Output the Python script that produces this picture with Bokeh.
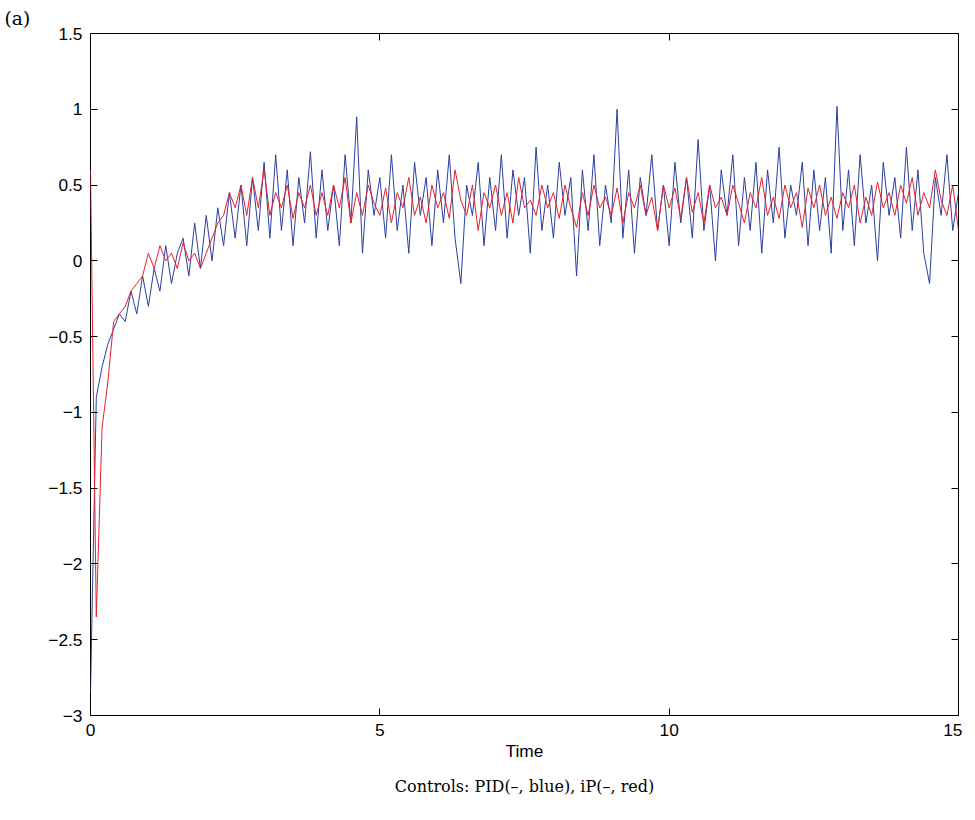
import numpy as np
from bokeh.plotting import figure
from bokeh.models import LinearAxis, FixedTicker, Title
from bokeh.embed import file_html
from bokeh.resources import INLINE

time = np.round(np.arange(0, 15.01, 0.1), 2)

pid = [
    -2.85, -0.9, -0.7, -0.55, -0.45, -0.35, -0.4, -0.2, -0.35, -0.1,
    -0.3, -0.05, -0.2, 0.1, -0.15, 0.05, 0.15, -0.1, 0.25, -0.05,
    0.3, 0.0, 0.35, 0.1, 0.45, 0.15, 0.5, 0.1, 0.55, 0.2,
    0.65, 0.15, 0.7, 0.2, 0.6, 0.1, 0.55, 0.25, 0.72, 0.15,
    0.6, 0.2, 0.5, 0.1, 0.7, 0.25, 0.95, 0.05, 0.6, 0.3,
    0.55, 0.15, 0.7, 0.2, 0.5, 0.05, 0.65, 0.3, 0.55, 0.1,
    0.6, 0.25, 0.7, 0.15, -0.15, 0.5, 0.3, 0.65, 0.1, 0.55,
    0.2, 0.7, 0.15, 0.6, 0.3, 0.55, 0.05, 0.75, 0.2, 0.5,
    0.15, 0.65, 0.3, 0.55, -0.1, 0.6, 0.2, 0.7, 0.1, 0.5,
    0.25, 1.0, 0.15, 0.6, 0.05, 0.55, 0.3, 0.7, 0.2, 0.5,
    0.1, 0.65, 0.25, 0.55, 0.15, 0.8, 0.2, 0.5, 0.0, 0.6,
    0.3, 0.7, 0.1, 0.55, 0.2, 0.65, 0.05, 0.6, 0.25, 0.75,
    0.15, 0.5, 0.3, 0.65, 0.1, 0.6, 0.2, 0.55, 0.05, 1.02,
    0.2, 0.6, 0.1, 0.7, 0.25, 0.5, 0.0, 0.65, 0.3, 0.55,
    0.15, 0.75, 0.2, 0.6, 0.05, -0.15, 0.55, 0.3, 0.7, 0.2,
    0.45,
]

ip = [
    0.6, -2.35, -1.1, -0.8, -0.4, -0.35, -0.3, -0.2, -0.15, -0.1,
    0.05, -0.05, 0.1, 0.0, 0.05, -0.05, 0.12, 0.0, 0.05, -0.05,
    0.05, 0.15, 0.25, 0.3, 0.45, 0.35, 0.5, 0.3, 0.55, 0.35,
    0.6, 0.3, 0.45, 0.35, 0.5, 0.28, 0.45, 0.35, 0.5, 0.3,
    0.45, 0.3, 0.5, 0.35, 0.55, 0.25, 0.45, 0.3, 0.5, 0.38,
    0.3, 0.48, 0.25, 0.45, 0.35, 0.55, 0.3, 0.42, 0.25, 0.5,
    0.35, 0.45, 0.28, 0.6, 0.4, 0.3, 0.5, 0.2, 0.45, 0.35,
    0.5, 0.3, 0.45, 0.25, 0.55, 0.35, 0.4, 0.3, 0.5, 0.35,
    0.45, 0.28, 0.5, 0.35, 0.22, 0.45, 0.3, 0.5, 0.35, 0.42,
    0.3, 0.48, 0.25, 0.45, 0.35, 0.5, 0.3, 0.42, 0.2, 0.5,
    0.35, 0.48, 0.28, 0.55, 0.32, 0.45, 0.25, 0.5, 0.35, 0.42,
    0.3, 0.5, 0.38, 0.25, 0.45, 0.35, 0.55, 0.3, 0.42, 0.28,
    0.5, 0.35, 0.45, 0.22, 0.48, 0.35, 0.5, 0.3, 0.42, 0.28,
    0.45, 0.35, 0.5, 0.25, 0.42, 0.3, 0.52, 0.35, 0.45, 0.3,
    0.5, 0.38, 0.55, 0.3, 0.45, 0.35, 0.6, 0.4, 0.3, 0.5,
    0.2,
]

y_ticks = [-3, -2.5, -2, -1.5, -1, -0.5, 0, 0.5, 1, 1.5]
x_ticks = [0, 5, 10, 15]

p = figure(width=962, height=806, x_range=(0, 15), y_range=(-3, 1.5),
           output_backend="svg", toolbar_location=None,
           min_border_left=90, min_border_right=4, min_border_top=22, min_border_bottom=4)
p.grid.visible = False
p.outline_line_color = "black"

p.line(time, pid, line_color="#2b3fa0", line_width=1)
p.line(time, ip, line_color="#e8202a", line_width=1)


def fmt(t):
    s = ("%g" % abs(t))
    return ("\u2212" + s) if t < 0 else s


labels = {t: fmt(t) for t in y_ticks}

for ax in p.xaxis + p.yaxis:
    ax.major_tick_in = 7
    ax.major_tick_out = 0
    ax.minor_tick_line_color = None
    ax.axis_line_color = None
    ax.major_label_text_font = "Liberation Sans"
    ax.major_label_text_font_size = "13pt"
    ax.major_label_text_color = "black"
    ax.major_label_standoff = 8

p.xaxis.ticker = FixedTicker(ticks=x_ticks)
p.yaxis.ticker = FixedTicker(ticks=y_ticks)
p.yaxis.major_label_overrides = labels
p.xaxis.axis_label = "Time"
p.xaxis.axis_label_text_font = "Liberation Sans"
p.xaxis.axis_label_text_font_style = "normal"
p.xaxis.axis_label_text_font_size = "13pt"
p.xaxis.axis_label_text_color = "black"
p.xaxis.axis_label_standoff = 2

for loc, tk in (("right", y_ticks), ("above", x_ticks)):
    ax = LinearAxis(ticker=FixedTicker(ticks=tk), major_tick_in=7, major_tick_out=0,
                    minor_tick_line_color=None, axis_line_color=None,
                    major_label_text_font_size="0pt")
    p.add_layout(ax, loc)

p.add_layout(Title(text="Controls: PID(\u2013, blue), iP(\u2013, red)", align="center",
                   text_font="DejaVu Serif", text_font_style="normal", text_color="black",
                   text_font_size="12pt", standoff=22), "below")
p.add_layout(Title(text="(a)", align="left", offset=-86, text_font="DejaVu Serif",
                   text_font_style="normal", text_color="black", text_font_size="14pt"), "above")

open("out.html", "w").write(file_html(p, INLINE))
